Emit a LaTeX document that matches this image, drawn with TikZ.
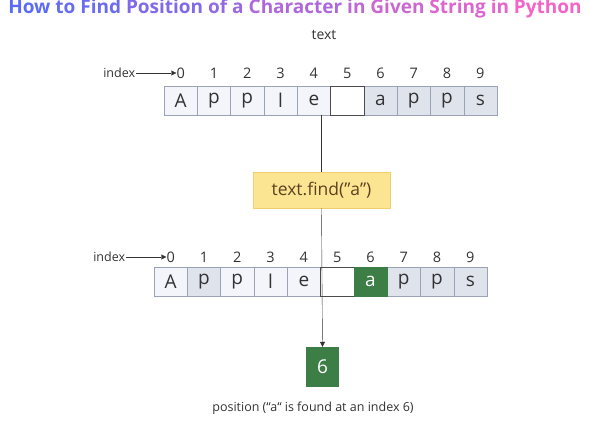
\documentclass[tikz,border=0pt]{standalone}
\usepackage{fontspec}
\setmainfont{Open Sans}
\usetikzlibrary{positioning, arrows.meta}

\definecolor{titleBlue}{HTML}{5A6CF6}
\definecolor{titlePink}{HTML}{F265C6}
\definecolor{cellLight}{HTML}{F3F5FA}
\definecolor{cellGray}{HTML}{DFE3EC}
\definecolor{cellBorder}{HTML}{9AA3B5}
\definecolor{cellText}{HTML}{333333}
\definecolor{foundGreen}{HTML}{3D7D46}
\definecolor{callFill}{HTML}{FBE592}
\definecolor{callBorder}{HTML}{F0D06A}
\definecolor{callText}{HTML}{5B4220}

\newcommand{\titleword}[2]{\textcolor{titlePink!#1!titleBlue}{#2}}

\begin{document}
\begin{tikzpicture}[x=1pt, y=-1pt,
        cell/.style={
            rectangle,
            draw=cellBorder,
            minimum width=33.3pt,
            minimum height=29pt,
            inner sep=0pt,
            text=cellText,
            font=\fontsize{19}{19}\selectfont
        },
        blank/.style={cell, draw=black!70, fill=white},
        idxnum/.style={
            inner sep=0pt,
            text=cellText,
            font=\fontsize{14.5}{14.5}\selectfont
        },
        idxlabel/.style={
            inner sep=1pt,
            text=cellText,
            font=\fontsize{12.5}{12.5}\selectfont
        },
        arrow/.style={
            -{Triangle[length=5pt, width=5pt]},
            black!80
        }
    ]
    \useasboundingbox (0,0) rectangle (590,430);

    % Title
    \node (title) at (295,9) {\fontsize{19}{19}\selectfont\bfseries
        \titleword{0}{How} \titleword{6}{to} \titleword{11}{Find}
        \titleword{25}{Position} \titleword{38}{of} \titleword{42}{a}
        \titleword{55}{Character} \titleword{67}{in} \titleword{75}{Given}
        \titleword{86}{String} \titleword{93}{in} \titleword{100}{Python}};

    \node[text=cellText, font=\fontsize{14}{14}\selectfont] (name) at (324,35) {text};

    % Original string
    \foreach \ch/\fc [count=\i from 0] in {A/cellLight, p/cellLight, p/cellLight, l/cellLight, e/cellLight, {}/white, a/cellGray, p/cellGray, p/cellGray, s/cellGray} {
        \node[cell, fill=\fc] (t\i) at ({164+33.3*(\i+0.5)}, 100.5) {\ch};
        \node[idxnum] (tn\i) at ({164+33.3*(\i+0.5)}, 73) {\i};
    }
    \node[blank] at (t5) {};
    \node[idxlabel, left=40pt of tn0] (tidx) {index};
    \draw[arrow] (tidx) -- (tn0);

    % Method call
    \node[rectangle, draw=callBorder, fill=callFill, text=callText,
        minimum width=137pt, minimum height=36pt,
        font=\fontsize{17.5}{17.5}\selectfont] (find) at (321.5,190)
        {text.find(\symbol{34}a\symbol{34})};

    % Result string
    \foreach \ch/\fc [count=\i from 0] in {A/cellLight, p/cellGray, p/cellLight, l/cellLight, e/cellLight, {}/white, a/foundGreen, p/cellGray, p/cellGray, s/cellGray} {
        \node[cell, fill=\fc] (b\i) at ({154+33.3*(\i+0.5)}, 281.5) {\ch};
        \node[idxnum] (bn\i) at ({154+33.3*(\i+0.5)}, 257) {\i};
    }
    \node[blank] at (b5) {};
    \node[cell, fill=foundGreen, draw=foundGreen, text=white] at (b6) {a};
    \node[idxlabel, left=40pt of bn0] (bidx) {index};
    \draw[arrow] (bidx) -- (bn0);

    % Position found
    \node[rectangle, fill=foundGreen, text=white, minimum width=33pt,
        minimum height=40pt, font=\fontsize{19}{19}\selectfont] (six) at (322.5,367) {6};
    \node[text=cellText, font=\fontsize{12.5}{12.5}\selectfont] (caption) at (313,408)
        {position (“a“ is found at an index 6)};

    % Connectors
    \draw[black!80] (find.north) -- (find.north |- t4.south);
    \draw[arrow] (find.south) -- (six.north);

\end{tikzpicture}
\end{document}
